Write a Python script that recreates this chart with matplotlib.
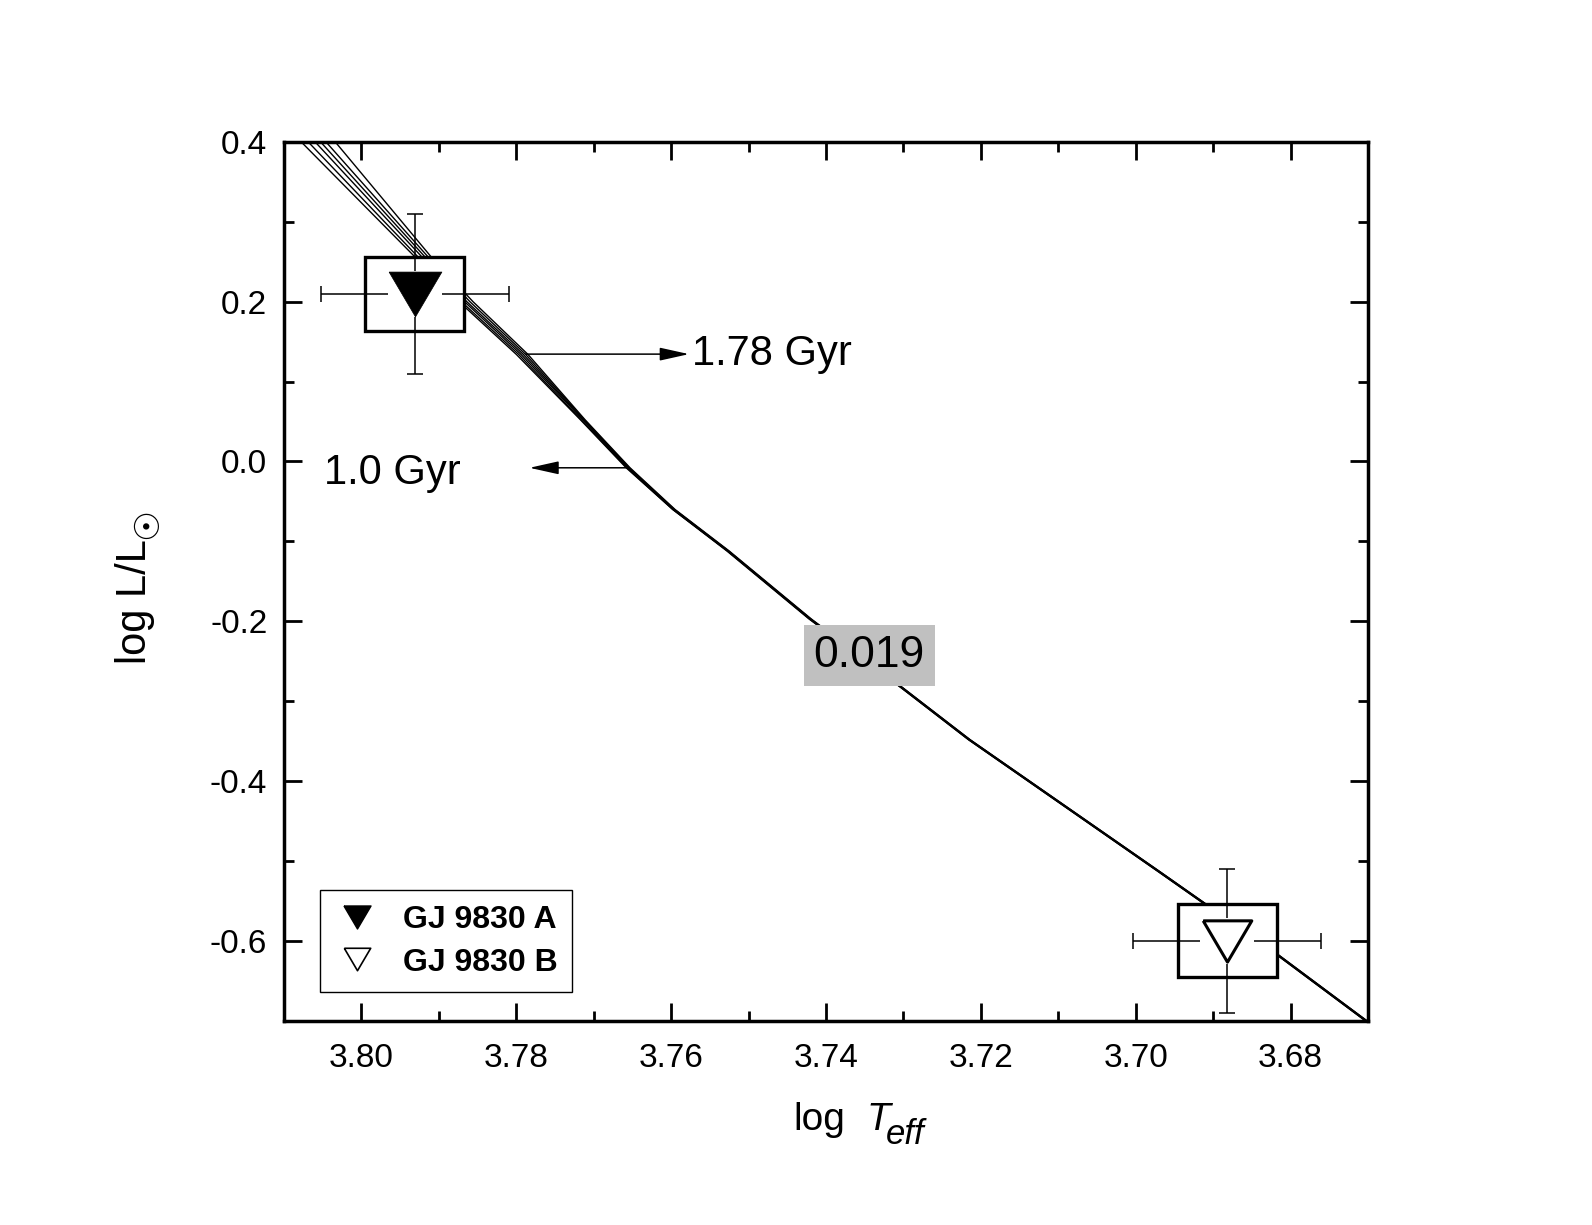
import matplotlib
matplotlib.use('Agg')
import matplotlib.pyplot as plt
from matplotlib.lines import Line2D
from matplotlib.patches import Rectangle
from matplotlib.ticker import MultipleLocator, FormatStrFormatter

plt.rcParams['font.family'] = ['Liberation Sans', 'DejaVu Sans']

# isochrones, Z = 0.019 (log L levels shared, log Teff per age)
ages = ['1.0', '1.12', '1.26', '1.41', '1.58', '1.78']
iso_logL = [0.400, 0.256, 0.200, 0.134, 0.052, -0.008, -0.060, -0.112,
            -0.197, -0.283, -0.348, -0.513, -0.617, -0.700]
iso_logT = [
    [3.8078, 3.7931, 3.7874, 3.7800, 3.7717, 3.7658, 3.7598, 3.7528, 3.7422, 3.7303, 3.7216, 3.6971, 3.6818, 3.6703],
    [3.8069, 3.7927, 3.7871, 3.7797, 3.7716, 3.7657, 3.7598, 3.7527, 3.7421, 3.7303, 3.7216, 3.6971, 3.6818, 3.6703],
    [3.8060, 3.7922, 3.7867, 3.7794, 3.7714, 3.7656, 3.7597, 3.7527, 3.7421, 3.7302, 3.7215, 3.6970, 3.6817, 3.6702],
    [3.8053, 3.7918, 3.7864, 3.7791, 3.7713, 3.7655, 3.7596, 3.7526, 3.7420, 3.7302, 3.7215, 3.6970, 3.6817, 3.6702],
    [3.8046, 3.7914, 3.7860, 3.7788, 3.7712, 3.7654, 3.7596, 3.7526, 3.7420, 3.7301, 3.7214, 3.6969, 3.6816, 3.6701],
    [3.8034, 3.7910, 3.7856, 3.7785, 3.7711, 3.7653, 3.7595, 3.7525, 3.7419, 3.7301, 3.7214, 3.6969, 3.6816, 3.6701],
]

# the two components
star_names = ['GJ 9830 A', 'GJ 9830 B']
star_logT = [3.7931, 3.6882]
star_logL = [0.2096, -0.5995]
star_logT_err = [0.0121, 0.0121]
star_logL_err = [0.100, 0.090]
box_logT_half = [0.0064, 0.0064]
box_logL_half = [0.046, 0.046]
star_filled = [True, False]

# down triangle and its bounding box as marker paths
tri = [(-1, 0.85), (1, 0.85), (0, -0.85), (-1, 0.85)]
rect = [(-1, -0.85), (1, -0.85), (1, 0.85), (-1, 0.85), (-1, -0.85)]

W, H = 1592, 1225
fig = plt.figure(figsize=(W / 100, H / 100), dpi=100)
ax = fig.add_axes([0.1784, 0.1665, 0.6809, 0.7178])

for logT in iso_logT:
    ax.plot(logT, iso_logL, color='black', lw=1.0, zorder=2)

for i in range(len(star_names)):
    x, y = star_logT[i], star_logL[i]
    ax.add_patch(Rectangle((x - box_logT_half[i], y - box_logL_half[i]),
                           2 * box_logT_half[i], 2 * box_logL_half[i],
                           facecolor='white', edgecolor='black', lw=2.4, zorder=3))
    ax.errorbar(x, y, xerr=star_logT_err[i], yerr=star_logL_err[i], fmt='none',
                ecolor='black', elinewidth=1.1, capsize=6, capthick=1.1, zorder=4)
    ax.plot(x, y, marker=rect, ms=39, mfc='white', mew=0, ls='none', zorder=5)
    if star_filled[i]:
        ax.plot(x, y, marker=tri, ms=38, mfc='black', mec='black', mew=0.5,
                ls='none', zorder=6)
    else:
        ax.plot(x, y, marker=tri, ms=35, mfc='white', mec='black', mew=2.2,
                ls='none', zorder=6)

# age labels with arrows
arrow = dict(arrowstyle='-|>,head_length=0.9,head_width=0.2', color='black',
             lw=1.1, mutation_scale=20, shrinkA=0, shrinkB=0)
ax.annotate('', xy=(3.7577, 0.1343), xytext=(3.7788, 0.1343), arrowprops=arrow, zorder=7)
ax.text(3.7573, 0.1343, '1.78 Gyr', fontsize=30, ha='left', va='center', zorder=7)
ax.annotate('', xy=(3.7783, -0.0079), xytext=(3.7655, -0.0079), arrowprops=arrow, zorder=7)
ax.text(3.8048, -0.014, '1.0 Gyr', fontsize=30, ha='left', va='center', zorder=7)

ax.text(3.7344, -0.243, '0.019', fontsize=32, ha='center', va='center', zorder=8,
        bbox=dict(boxstyle='square,pad=0.22', facecolor='#c0c0c0', edgecolor='none'))

ax.set_xlim(3.81, 3.67)
ax.set_ylim(-0.7, 0.4)
ax.xaxis.set_major_locator(MultipleLocator(0.02))
ax.xaxis.set_minor_locator(MultipleLocator(0.01))
ax.yaxis.set_major_locator(MultipleLocator(0.2))
ax.yaxis.set_minor_locator(MultipleLocator(0.1))
ax.xaxis.set_major_formatter(FormatStrFormatter('%.2f'))
ax.yaxis.set_major_formatter(FormatStrFormatter('%.1f'))
ax.tick_params(which='both', direction='in', top=True, right=True,
               width=2.0, labelsize=24)
ax.tick_params(axis='x', pad=16)
ax.tick_params(axis='y', pad=12)
ax.tick_params(which='major', length=13)
ax.tick_params(which='minor', length=7.5)
for s in ax.spines.values():
    s.set_linewidth(2.5)

# axis titles, built from pieces (pixel positions -> figure fraction)
fig.text(793 / W, 1 - 1130 / H, 'log', fontsize=28, va='baseline', ha='left')
fig.text(866 / W, 1 - 1130 / H, 'T', fontsize=28, style='italic', va='baseline', ha='left')
fig.text(886 / W, 1 - 1144 / H, 'eff', fontsize=25, style='italic', va='baseline', ha='left')

fig.text(146 / W, 1 - 664 / H, 'log L/L', fontsize=30, rotation=90,
         rotation_mode='anchor', ha='left', va='baseline')
fig.text(147 / W, 1 - 523 / H, '\u2609', fontsize=25, family='DejaVu Sans',
         rotation=90, ha='center', va='center')

handles = []
for i in range(len(star_names)):
    if star_filled[i]:
        h = Line2D([], [], marker=tri, ms=19.5, mfc='black', mec='black', ls='none')
    else:
        h = Line2D([], [], marker=tri, ms=19, mfc='white', mec='black', mew=1.2, ls='none')
    handles.append(h)
leg = ax.legend(handles, star_names, loc='lower left', bbox_to_anchor=(0.033, 0.033),
                borderaxespad=0, fancybox=False, framealpha=1, edgecolor='black',
                prop={'weight': 'bold', 'size': 23}, handlelength=1.4,
                handletextpad=0.75, labelspacing=0.4, borderpad=0.45)
leg.get_frame().set_linewidth(1.0)
leg.set_zorder(10)

fig.savefig('out.png', dpi=100)
